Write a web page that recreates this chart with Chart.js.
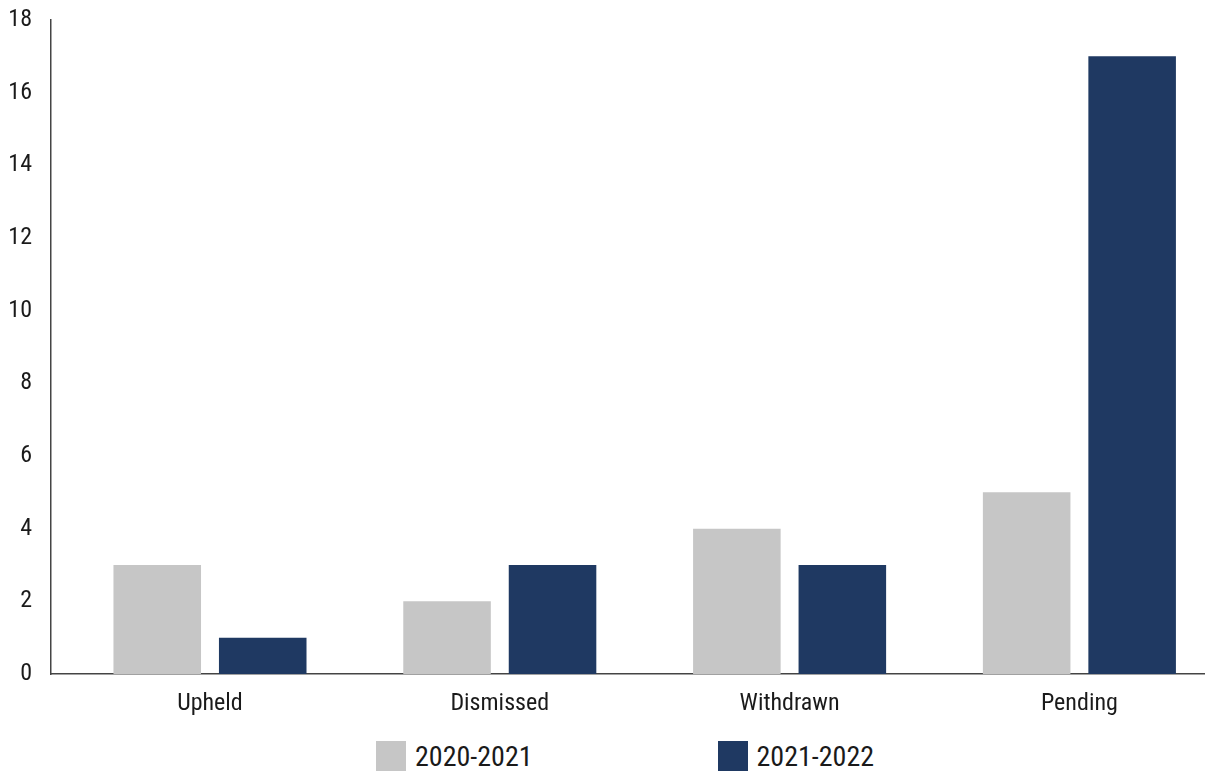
<!DOCTYPE html>
<html>
<head>
<meta charset="utf-8">
<script src="https://cdn.jsdelivr.net/npm/chart.js@4.4.1/dist/chart.umd.min.js"></script>
<style>
  html, body { margin: 0; padding: 0; background: #fff; overflow: hidden; }
  #wrap { position: relative; width: 1205px; height: 771px; }
  #chart { position: absolute; left: 0; top: 0; }
  #legend { position: absolute; left: 376px; top: 741px; display: flex; font-family: "Roboto Condensed", "DejaVu Sans Condensed", sans-serif; font-size: 28px; color: #1a1a1a; }
  .item { display: flex; align-items: center; height: 30px; }
  .box { width: 30px; height: 30px; margin-right: 9px; }
</style>
</head>
<body>
<div id="wrap">
  <canvas id="chart" width="1205" height="730"></canvas>
  <div id="legend"></div>
</div>
<script>
// --- Data ---
const categories = ['Upheld', 'Dismissed', 'Withdrawn', 'Pending'];
const seriesNames = ['2020-2021', '2021-2022'];
const values2021 = [3, 2, 4, 5];
const values2022 = [1, 3, 3, 17];
const yTicks = [0, 2, 4, 6, 8, 10, 12, 14, 16, 18];

const colors = ['#c6c6c6', '#1f3962'];
const FONT = '"Roboto Condensed", "DejaVu Sans Condensed", sans-serif';

const ctx = document.getElementById('chart').getContext('2d');
new Chart(ctx, {
    type: 'bar',
    data: {
        labels: categories,
        datasets: [
            { label: seriesNames[0], data: values2021, backgroundColor: colors[0] },
            { label: seriesNames[1], data: values2022, backgroundColor: colors[1] }
        ]
    },
    options: {
        responsive: false,
        animation: false,
        layout: { padding: { top: 20, right: 0, left: 0, bottom: 0 } },
        categoryPercentage: 0.728,
        barPercentage: 0.83,
        plugins: { legend: { display: false }, tooltip: { enabled: false } },
        scales: {
            x: {
                grid: { display: false, drawTicks: false },
                border: { display: true, color: '#444', width: 1.5 },
                ticks: { color: '#1a1a1a', padding: 16, font: { family: FONT, size: 24 } },
                // bars in the source sit a little right of an even split of the axis
                afterBuildTicks: s => { s._startValue -= 0.0486; s._valueRange -= 0.018; },
                afterFit: s => { s.height = 56; }
            },
            y: {
                min: 0,
                max: 18,
                afterBuildTicks: s => { s.ticks = yTicks.map(v => ({ value: v })); },
                grid: { display: false, drawTicks: false },
                border: { display: true, color: '#444', width: 1.5 },
                ticks: { color: '#1a1a1a', padding: 19, font: { family: FONT, size: 24 } },
                afterFit: s => { s.width = 51; s.paddingTop = 0; }
            }
        }
    }
});

// --- Legend ---
const legend = document.getElementById('legend');
seriesNames.forEach((name, i) => {
    const item = document.createElement('div');
    item.className = 'item';
    item.style.marginRight = i === 0 ? '185px' : '0';
    item.innerHTML = `<span class="box" style="background:${colors[i]}"></span><span>${name}</span>`;
    legend.appendChild(item);
});
</script>
</body>
</html>
